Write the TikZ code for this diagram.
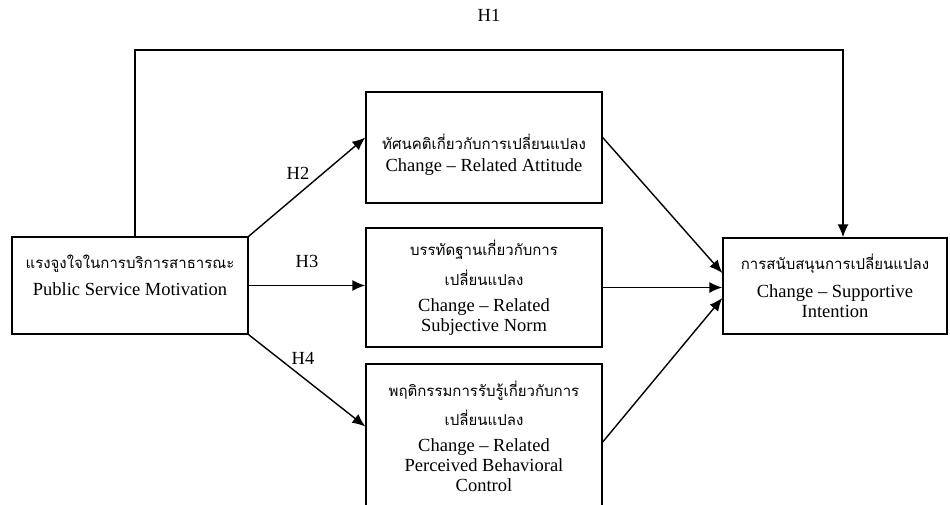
\documentclass[tikz,border=0pt]{standalone}
\usepackage{fontspec}
\setmainfont{Liberation Serif}
\newfontfamily\thaifont[Script=Thai]{Loma}
\usetikzlibrary{positioning,arrows.meta}
\newcommand{\thaitext}[1]{{\thaifont\fontsize{15pt}{20pt}\selectfont #1}}

\begin{document}
\begin{tikzpicture}[
    x=1pt, y=-1pt,
    every node/.style={font=\fontsize{18.5pt}{20pt}\selectfont},
    construct/.style={
        rectangle,
        draw,
        line width=1.4pt,
        minimum width=236pt,
        align=center,
        inner sep=0pt
    },
    link/.style={
        -{Latex[length=13pt,width=11pt]},
        line width=1.4pt
    }
]

\clip (0,0) rectangle (950,505);

\node[construct, minimum height=97pt] (motivation) at (130,285.5)
{\thaitext{แรงจูงใจในการบริการสาธารณะ}\\[7pt] Public Service Motivation\\ \mbox{}};

\node[construct, minimum height=111pt] (attitude) at (484,147.5)
{\mbox{}\\[9pt] \thaitext{ทัศนคติเกี่ยวกับการเปลี่ยนแปลง}\\[2pt] Change -- Related Attitude};

\node[construct, minimum height=119pt] (norm) at (484,287.5)
{\thaitext{บรรทัดฐานเกี่ยวกับการ}\\[10pt] \thaitext{เปลี่ยนแปลง}\\[6pt]
Change -- Related\\ Subjective Norm};

\node[construct, minimum height=145pt] (pbc) at (484,436.5)
{\thaitext{พฤติกรรมการรับรู้เกี่ยวกับการ}\\[9pt] \thaitext{เปลี่ยนแปลง}\\[6pt]
Change -- Related\\ Perceived Behavioral\\ Control};

\node[construct, minimum width=224pt, minimum height=96pt] (intention) at (835,286)
{\thaitext{การสนับสนุนการเปลี่ยนแปลง}\\[8pt] Change -- Supportive\\ Intention};

\coordinate (h1corner) at (843,50);

\draw[link] ([xshift=5pt]motivation.north) |- node[pos=0.75, above=24pt] {H1} (h1corner)
    -- ([xshift=8pt]intention.north);
\draw[link] (motivation.north east) -- node[midway, above=3pt, xshift=-9pt] {H2}
    ([yshift=10pt]attitude.west);
\draw[link] (motivation.east) -- node[midway, above=14pt] {H3} (motivation.east -| norm.west);
\draw[link] (motivation.south east) -- node[midway, above=12pt, xshift=-4pt] {H4}
    ([yshift=10pt]pbc.west);

\draw[link] ([yshift=10pt]attitude.east) -- ([yshift=13pt]intention.west);
\draw[link] (norm.east) -- (norm.east -| intention.west);
\draw[link] ([yshift=-5.5pt]pbc.east) -- ([yshift=-12pt]intention.west);

\end{tikzpicture}
\end{document}
